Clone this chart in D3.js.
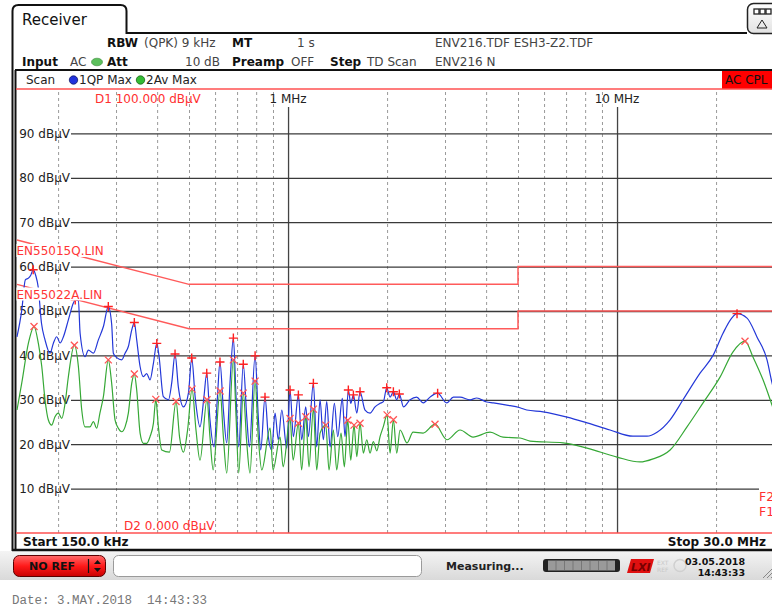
<!DOCTYPE html>
<html><head><meta charset="utf-8">
<script src="https://d3js.org/d3.v7.min.js"></script>
<style>
html,body{margin:0;padding:0;background:#fff;overflow:hidden}
svg{display:block}
text{font-family:"DejaVu Sans",Verdana,sans-serif;font-size:12px}
</style></head><body>
<svg id="chart" width="772" height="609"></svg>
<script>
// ---------------- data (frequency in MHz, level in dBµV) ----------------
const qpTrace = [
 [0.150,44.2],[0.1551,50.2],[0.159,57],[0.1625,57.4],[0.165,58],[0.168,59.3],[0.171,58],[0.174,55.4],[0.178,47.3],[0.1825,43.5],
 [0.189,40.5],[0.1934,42.7],[0.1981,44.2],[0.2028,42.8],[0.2076,44.2],[0.2149,48],[0.2226,51.8],[0.2255,52.5],[0.2305,52.3],[0.2333,45],
 [0.2415,39.7],[0.2472,41.2],[0.256,40.5],[0.2651,43.5],[0.2746,46.5],[0.2842,51],[0.291,47],[0.2944,40.5],[0.3015,39.5],[0.3122,39],
 [0.3196,40.5],[0.327,42],[0.3348,45.7],[0.341,47.4],[0.3467,43.5],[0.355,37.5],[0.3632,35.2],[0.3719,35.9],[0.3806,34.5],[0.3897,38.2],
 [0.399,42.7],[0.4055,39.7],[0.4178,30.7],[0.433,30],[0.443,33.8],[0.4534,40.3],[0.464,32.9],[0.481,28.4],[0.498,31.5],[0.5095,39.4],
 [0.522,30.6],[0.540,23.9],[0.555,30.6],[0.566,36],[0.579,25.5],[0.596,19.4],[0.610,30.6],[0.621,38.5],[0.636,27.7],[0.651,20.3],
 [0.667,34.5],[0.682,43.9],[0.695,30.6],[0.708,19.4],[0.731,38],[0.749,26.1],[0.763,19.4],[0.794,39.9],[0.812,26.1],[0.826,18.7],
 [0.851,30.6],[0.871,21.7],[0.892,18.7],[0.913,27],[0.934,21],[0.957,27.7],[0.991,19.1],[1.014,32.2],[1.038,21.7],[1.075,31.1],
 [1.100,21],[1.132,28.4],[1.153,21.7],[1.194,33.7],[1.222,19.4],[1.251,30],[1.280,21],[1.311,29.6],[1.342,19.4],[1.383,29.2],
 [1.416,21.7],[1.462,30.3],[1.490,21.7],[1.525,32.2],[1.551,29.2],[1.580,31.1],[1.618,27],[1.655,31.8],[1.714,27.7],[1.775,27],
 [1.838,28.4],[1.904,29.2],[1.949,29.6],[1.995,32.7],[2.042,30.6],[2.090,31.8],[2.140,30],[2.179,31.3],[2.243,28.4],[2.349,30],
 [2.459,30.6],[2.579,29.3],[2.701,30.6],[2.849,31.5],[3.034,29.3],[3.181,30.6],[3.333,30.6],[3.574,30],[3.746,30.4],[4.015,29.5],
 [4.209,29.3],[4.622,28.8],[5.072,28.2],[5.315,27.7],[5.96,27.3],[7.05,26.1],[8.11,24.8],[9.52,23.2],[11.18,21.8],[12.34,21.8],
 [13.23,22.7],[14.50,25.5],[15.87,30],[17.88,36],[19.58,40],[21.00,45],[22.31,48.4],[23.16,49.4],[24.84,48.4],[26.65,44.1],
 [28.57,39],[29.59,33.8],[30,32]
];
const avTrace = [
 [0.150,27.7],[0.1551,33.8],[0.1624,42.7],[0.169,46.5],[0.1742,42.7],[0.1784,37.5],[0.1825,30],[0.1867,25.5],[0.1912,24.3],[0.1957,26.2],
 [0.2003,27],[0.2052,25.8],[0.2100,29.2],[0.2149,35.2],[0.2241,42.3],[0.2305,37.5],[0.236,27.7],[0.2415,23.9],[0.250,23.9],[0.256,25.1],
 [0.262,23.6],[0.268,27],[0.2746,30.7],[0.2842,39],[0.291,33.7],[0.2979,25.5],[0.3049,23.6],[0.3122,22.8],[0.3196,23.9],[0.327,27],
 [0.3348,33.7],[0.341,35.8],[0.3467,32.2],[0.355,22.5],[0.3632,20.2],[0.3719,20.2],[0.3806,21.7],[0.3897,24.7],[0.3963,30.1],[0.4035,23.9],
 [0.4131,18.7],[0.436,18.2],[0.4566,29.6],[0.468,21.6],[0.481,18.2],[0.495,23.2],[0.5107,32.4],[0.525,23.2],[0.540,16.4],[0.567,30],
 [0.579,21.6],[0.592,14.2],[0.6214,32],[0.636,21.6],[0.651,13.5],[0.682,39],[0.695,26.1],[0.708,13.5],[0.731,31.5],[0.749,20.3],
 [0.766,13.5],[0.794,34.2],[0.812,21.6],[0.832,14.2],[0.882,23.6],[0.900,14.2],[0.946,21.6],[0.966,14.9],[1.014,25.8],[1.036,16.4],
 [1.075,24.7],[1.100,14.2],[1.132,26.2],[1.158,14.9],[1.194,27.9],[1.222,14.2],[1.251,22.5],[1.302,24.3],[1.332,14.2],[1.373,23.2],
 [1.406,14.2],[1.449,22.5],[1.483,14.9],[1.519,25.4],[1.551,16.4],[1.587,24.3],[1.618,17.2],[1.655,24.7],[1.694,18],[1.735,21],
 [1.775,18],[1.816,20.6],[1.861,18.5],[1.904,21.7],[1.949,24],[2.000,26.6],[2.042,18],[2.090,25.5],[2.140,18],[2.190,23.2],
 [2.300,20.3],[2.399,22.7],[2.573,22.5],[2.797,24.5],[3.042,21],[3.333,23.2],[3.650,21.6],[4.111,22.7],[4.503,21.6],[5.072,21.4],
 [5.44,20.7],[6.855,20.3],[8.108,19.1],[10.0,17.1],[11.75,16],[12.87,16.7],[14.5,18.7],[16.32,23.9],[18.26,29.3],[20.56,35.1],
 [22.52,40.8],[24.49,43.2],[25.91,39.6],[27.78,34.5],[29.59,28.8],[30,27.5]
];
const qpPeaks = [
 [0.168,59.3],[0.2255,52.5],[0.2842,51],[0.341,47.4],[0.399,42.7],[0.4534,40.3],[0.5095,39.4],[0.566,36],[0.621,38.5],[0.682,43.9],
 [0.731,38],[0.794,39.9],[0.851,30.6],[1.014,32.2],[1.075,31.1],[1.194,33.7],[1.525,32.2],[1.580,31.1],[1.655,31.8],[1.995,32.7],
 [2.090,31.8],[2.179,31.3],[2.849,31.5],[23.16,49.4]
];
const avPeaks = [
 [0.169,46.5],[0.2241,42.3],[0.2842,39],[0.341,35.8],[0.3963,30.1],[0.4566,29.6],[0.5107,32.4],[0.567,30],[0.6214,32],[0.682,39],
 [0.731,31.5],[0.794,34.2],[1.014,25.8],[1.075,24.7],[1.132,26.2],[1.194,27.9],[1.302,24.3],[1.519,25.4],[1.587,24.3],[1.655,24.7],
 [2.000,26.6],[2.090,25.5],[2.797,24.5],[24.49,43.2]
];
const limitFreqs = [0.15, 0.5, 5, 5, 30];
const qpLimit = [66, 56, 56, 60, 60];
const avLimit = [56, 46, 46, 50, 50];
const limitNames = ["EN55015Q.LIN", "EN55022A.LIN"];
const levelTicks = [10, 20, 30, 40, 50, 60, 70, 80, 90];
const minorFreqs = [0.2,0.3,0.4,0.5,0.6,0.7,0.8,0.9,2,3,4,5,6,7,8,9,20];
const majorFreqs = [1, 10];
const majorLabels = ["1 MHz", "10 MHz"];
const freqDomain = [0.15, 30];
const levelDomain = [0, 100];

// ---------------- drawing ----------------
const svg = d3.select("#chart");
const x = d3.scaleLog().domain(freqDomain).range([17, 774]);
const y = d3.scaleLinear().domain(levelDomain).range([533, 89]);
const defs = svg.append("defs");
defs.append("clipPath").attr("id","plotclip").append("rect").attr("x",16).attr("y",89).attr("width",756).attr("height",444);
const g1 = defs.append("linearGradient").attr("id","barg").attr("x1",0).attr("y1",0).attr("x2",0).attr("y2",1);
g1.append("stop").attr("offset","0").attr("stop-color","#f4f4f4");
g1.append("stop").attr("offset","1").attr("stop-color","#d9d9d9");
const g2 = defs.append("linearGradient").attr("id","redg").attr("x1",0).attr("y1",0).attr("x2",0).attr("y2",1);
g2.append("stop").attr("offset","0").attr("stop-color","#ff6a6a");
g2.append("stop").attr("offset","0.5").attr("stop-color","#ff1a1a");
g2.append("stop").attr("offset","1").attr("stop-color","#c80000");
const g3 = defs.append("linearGradient").attr("id","btng").attr("x1",0).attr("y1",0).attr("x2",0).attr("y2",1);
g3.append("stop").attr("offset","0").attr("stop-color","#ffffff");
g3.append("stop").attr("offset","1").attr("stop-color","#e2e2e2");

svg.append("rect").attr("width",772).attr("height",609).attr("fill","#fff");

// status bar background
svg.append("rect").attr("x",0).attr("y",551).attr("width",772).attr("height",29).attr("fill","url(#barg)");

// tab + frames
svg.append("path").attr("d","M12.5,551 L12.5,11 Q12.5,5 18.5,5 L120.5,5 Q126.5,5 126.5,11 L126.5,33 L747,33")
  .attr("fill","none").attr("stroke","#111").attr("stroke-width",2);
svg.append("path").attr("d","M15.5,551 L15.5,70").attr("stroke","#111").attr("stroke-width",2);
svg.append("line").attr("x1",15).attr("x2",772).attr("y1",70).attr("y2",70).attr("stroke","#111").attr("stroke-width",2.2);
svg.append("line").attr("x1",12).attr("x2",772).attr("y1",550).attr("y2",550).attr("stroke","#111").attr("stroke-width",2.5);
// top right button
svg.append("rect").attr("x",747.5).attr("y",3.5).attr("width",40).attr("height",30).attr("rx",6)
  .attr("fill","url(#btng)").attr("stroke","#222").attr("stroke-width",1.5);
[754,760,766].forEach(v=>svg.append("rect").attr("x",v).attr("y",9).attr("width",5).attr("height",5).attr("fill","#fff").attr("stroke","#222").attr("stroke-width",1.3));
svg.append("path").attr("d","M762,20 L767,28 L757,28 Z").attr("fill","none").attr("stroke","#222").attr("stroke-width",1);

svg.append("text").attr("x",22).attr("y",25).style("font-size","15px").attr("fill","#111").text("Receiver");

// header info
function t(xp, yp, s, bold, col){
  return svg.append("text").attr("x",xp).attr("y",yp).attr("fill",col||(bold?"#111":"#444"))
    .style("font-weight",bold?"bold":"normal").text(s);
}
t(107,47,"RBW",true); t(144,47,"(QPK) 9 kHz"); t(232,47,"MT",true); t(297,47,"1 s"); t(435,47,"ENV216.TDF ESH3-Z2.TDF");
t(22,66,"Input",true); t(70,66,"AC");
svg.append("ellipse").attr("cx",97).attr("cy",62).attr("rx",5.5).attr("ry",3.8).attr("fill","#5cc05c").attr("stroke","#3a8a3a").attr("stroke-width",0.6);
t(107,66,"Att",true); t(185,66,"10 dB"); t(232,66,"Preamp",true); t(291,66,"OFF"); t(330,66,"Step",true); t(367,66,"TD Scan"); t(435,66,"ENV216 N");

// legend row
t(26,84,"Scan",false,"#222");
svg.append("circle").attr("cx",73.5).attr("cy",80).attr("r",4.2).attr("fill","#2233dd").attr("stroke","#111a66").attr("stroke-width",0.8);
t(79,84,"1QP Max",false,"#222");
svg.append("circle").attr("cx",140.5).attr("cy",80).attr("r",4.2).attr("fill","#33bb33").attr("stroke","#186618").attr("stroke-width",0.8);
t(146,84,"2Av Max",false,"#222");
svg.append("rect").attr("x",722).attr("y",71).attr("width",50).attr("height",18).attr("fill","#ff0000");
t(725,84,"AC CPL",false,"#111");

// plot: vertical grid
const vMinor = svg.append("g").attr("transform","translate(0,533)")
  .call(d3.axisBottom(x).tickValues(minorFreqs).tickSize(-442).tickFormat(""));
vMinor.select(".domain").remove();
vMinor.selectAll(".tick line").attr("stroke","#9a9a9a").attr("stroke-dasharray","3,3").attr("stroke-width",1);
const vMajor = svg.append("g").attr("transform","translate(0,533)")
  .call(d3.axisBottom(x).tickValues(majorFreqs).tickSize(-426).tickFormat(""));
vMajor.select(".domain").remove();
vMajor.selectAll(".tick line").attr("stroke","#444").attr("stroke-width",1.3);
svg.selectAll(".mlab").data(majorFreqs).enter().append("text").attr("class","mlab")
  .attr("x",d=>x(d)).attr("y",103).attr("text-anchor","middle").attr("fill","#222").text((d,i)=>majorLabels[i]);

// horizontal grid + level labels
const yAx = svg.append("g").attr("transform","translate(71,0)")
  .call(d3.axisLeft(y).tickValues(levelTicks).tickSizeInner(-701).tickSizeOuter(0).tickPadding(1).tickFormat(d=>d+" dBµV"));
yAx.select(".domain").remove();
yAx.selectAll(".tick line").attr("stroke","#3a3a3a").attr("stroke-width",1.3)
  .attr("x2",d=>d===10?688:701);
yAx.selectAll(".tick text").attr("fill","#222").style("font-size","12px").style("font-family","'DejaVu Sans',Verdana,sans-serif");

// display lines D1/D2
svg.append("line").attr("x1",16).attr("x2",772).attr("y1",y(100)).attr("y2",y(100)).attr("stroke","#ff5050").attr("stroke-width",1.5);
svg.append("line").attr("x1",16).attr("x2",772).attr("y1",y(0)).attr("y2",y(0)).attr("stroke","#ff5050").attr("stroke-width",1.5);
t(95,103,"D1 100.000 dBµV",false,"#ff3030");
t(124,530,"D2 0.000 dBµV",false,"#ff3030");

const plot = svg.append("g").attr("clip-path","url(#plotclip)");
const line = d3.line().x(d=>x(d[0])).y(d=>y(d[1]));
const sline = d3.line().x(d=>x(d[0])).y(d=>y(d[1])).curve(d3.curveMonotoneX);
// limit lines
[qpLimit, avLimit].forEach(arr=>{
  plot.append("path").datum(limitFreqs.map((f,i)=>[f,arr[i]])).attr("d",line)
    .attr("fill","none").attr("stroke","#ff5a5a").attr("stroke-width",1.5);
});
// traces
plot.append("path").datum(qpTrace).attr("d",sline).attr("fill","none").attr("stroke","#2438d8").attr("stroke-width",1.2).attr("stroke-linejoin","round");
plot.append("path").datum(avTrace).attr("d",sline).attr("fill","none").attr("stroke","#36a836").attr("stroke-width",1.2).attr("stroke-linejoin","round");
// markers
plot.selectAll(".pq").data(qpPeaks).enter().append("path").attr("class","pq")
  .attr("transform",d=>`translate(${x(d[0])},${y(d[1])})`).attr("d","M-4.5,0H4.5M0,-4.5V4.5")
  .attr("stroke","#ff2020").attr("stroke-width",1.4);
plot.selectAll(".pa").data(avPeaks).enter().append("path").attr("class","pa")
  .attr("transform",d=>`translate(${x(d[0])},${y(d[1])})`).attr("d","M-3.5,-3.5L3.5,3.5M-3.5,3.5L3.5,-3.5")
  .attr("stroke","#ff5555").attr("stroke-width",1.3);

// limit labels with background
[[limitNames[0],qpLimit[0]],[limitNames[1],avLimit[0]]].forEach(([nm,v],i)=>{
  const yy = i===0 ? 255 : 298.5;
  svg.append("rect").attr("x",16.5).attr("y",yy-11).attr("width",88).attr("height",13).attr("fill","#fff");
  t(16.5,yy,nm,false,"#ff3535");
});
t(759,501,"F2",false,"#ff3030").style("font-size","12.5px");
t(759,516,"F1",false,"#ff3030").style("font-size","12.5px");

// start / stop
t(23,546,"Start 150.0 kHz",true,"#111");
t(766,546,"Stop 30.0 MHz",true,"#111").attr("text-anchor","end");

// status bar widgets
svg.append("rect").attr("x",13.5).attr("y",555.5).attr("width",92).attr("height",21).attr("rx",6)
  .attr("fill","url(#redg)").attr("stroke","#5a0000").attr("stroke-width",1);
svg.append("text").attr("x",52).attr("y",570).attr("text-anchor","middle").style("font-size","11px").style("font-weight","bold").attr("fill","#111").text("NO REF");
svg.append("line").attr("x1",88.5).attr("x2",88.5).attr("y1",559).attr("y2",573).attr("stroke","#111").attr("stroke-width",1.2);
svg.append("path").attr("d","M94,564 L97.5,560 L101,564 Z M94,568 L97.5,572 L101,568 Z").attr("fill","#111");
svg.append("rect").attr("x",113.5).attr("y",555.5).attr("width",308).attr("height",21).attr("rx",5)
  .attr("fill","#fff").attr("stroke","#9a9a9a").attr("stroke-width",1);
svg.append("text").attr("x",446).attr("y",570).style("font-size","11px").style("font-weight","bold").attr("fill","#222").text("Measuring...");
svg.append("rect").attr("x",543).attr("y",559).attr("width",77).attr("height",13).attr("rx",3).attr("fill","#222");
svg.append("rect").attr("x",548).attr("y",560.5).attr("width",67).attr("height",10).attr("fill","#9a9a9a");
d3.range(7).forEach(i=>svg.append("line").attr("x1",556+i*8.5).attr("x2",556+i*8.5).attr("y1",561).attr("y2",570).attr("stroke","#777").attr("stroke-width",1));
svg.append("path").attr("d","M631,559 L654,559 L650,573 L627,573 Z").attr("fill","#e01010");
svg.append("text").attr("x",631).attr("y",571).style("font-size","11px").style("font-weight","bold").style("font-style","italic").attr("fill","#700").text("LXI");
svg.append("text").attr("x",657).attr("y",565).style("font-size","6px").attr("fill","#c8c8c8").text("EXT");
svg.append("text").attr("x",657).attr("y",572).style("font-size","6px").attr("fill","#c8c8c8").text("REF");
svg.append("circle").attr("cx",680).attr("cy",565.5).attr("r",6).attr("fill","none").attr("stroke","#d0d0d0").attr("stroke-width",1.5);
svg.append("text").attr("x",745).attr("y",565).attr("text-anchor","end").style("font-size","9.5px").style("font-weight","bold").attr("fill","#111").text("03.05.2018");
svg.append("text").attr("x",745).attr("y",576).attr("text-anchor","end").style("font-size","9.5px").style("font-weight","bold").attr("fill","#111").text("14:43:33");
[0,4,8].forEach(o=>svg.append("line").attr("x1",763+o).attr("y1",578).attr("x2",773).attr("y2",568+o).attr("stroke","#888").attr("stroke-width",1));

// footer
svg.append("text").attr("x",12).attr("y",604).attr("xml:space","preserve").style("white-space","pre")
  .style("font-family","'Liberation Mono','DejaVu Sans Mono',monospace").style("font-size","12.5px").attr("fill","#777")
  .text("Date: 3.MAY.2018  14:43:33");
</script>
</body></html>
